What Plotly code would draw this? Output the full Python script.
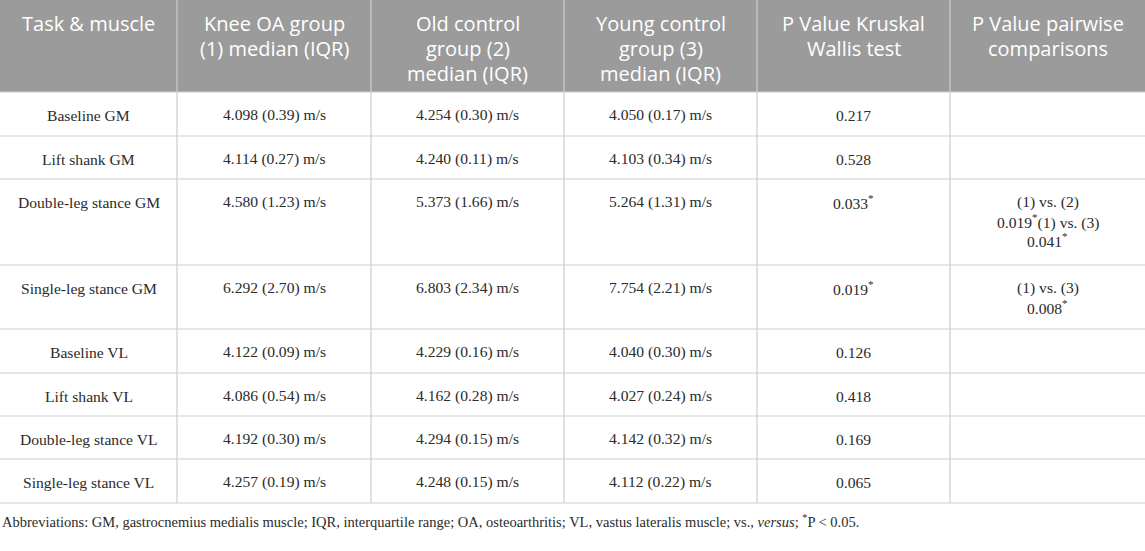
import plotly.graph_objects as go

# Table content
tasks = [
    "Baseline GM", "Lift shank GM", "Double-leg stance GM", "Single-leg stance GM",
    "Baseline VL", "Lift shank VL", "Double-leg stance VL", "Single-leg stance VL",
]
knee_oa_median = [4.098, 4.114, 4.580, 6.292, 4.122, 4.086, 4.192, 4.257]
knee_oa_iqr = [0.39, 0.27, 1.23, 2.70, 0.09, 0.54, 0.30, 0.19]
old_ctrl_median = [4.254, 4.240, 5.373, 6.803, 4.229, 4.162, 4.294, 4.248]
old_ctrl_iqr = [0.30, 0.11, 1.66, 2.34, 0.16, 0.28, 0.15, 0.15]
young_ctrl_median = [4.050, 4.103, 5.264, 7.754, 4.040, 4.027, 4.142, 4.112]
young_ctrl_iqr = [0.17, 0.34, 1.31, 2.21, 0.30, 0.24, 0.32, 0.22]
p_kruskal = [0.217, 0.528, 0.033, 0.019, 0.126, 0.418, 0.169, 0.065]
p_pairwise = [
    "", "",
    "(1) vs. (2)<br>0.019<sup>*</sup>(1) vs. (3)<br>0.041<sup>*</sup>",
    "(1) vs. (3)<br>0.008<sup>*</sup>",
    "", "", "", "",
]
headers = [
    "Task & muscle",
    "Knee OA group<br>(1) median (IQR)",
    "Old control<br>group (2)<br>median (IQR)",
    "Young control<br>group (3)<br>median (IQR)",
    "P Value Kruskal<br>Wallis test",
    "P Value pairwise<br>comparisons",
]
footnote = ("Abbreviations: GM, gastrocnemius medialis muscle; IQR, interquartile range; "
            "OA, osteoarthritis; VL, vastus lateralis muscle; vs., <i>versus</i>; "
            "<sup>*</sup>P < 0.05.")

# layout (pixels)
W, H = 1145, 551
col_edges = [0, 177, 371, 564, 757, 950, 1145]
header_h = 92
row_heights = [44, 43, 86, 64, 44, 43, 43, 44]
cell_pad_top = 23    # first text line sits this far below a row's top edge
line_h = 19          # body line spacing
head_line_h = 25     # header line spacing

HEAD_FILL = "#9b9b9b"
GRID = "#cdcdcd"
SERIF = "Liberation Serif"
SANS = "Open Sans"


def fmt(medians, iqrs):
    return [f"{m:.3f} ({q:.2f}) m/s" for m, q in zip(medians, iqrs)]


def fmt_p(vals):
    return [f"{p:.3f}<sup>*</sup>" if p < 0.05 else f"{p:.3f}" for p in vals]


def main():
    columns = [
        tasks,
        fmt(knee_oa_median, knee_oa_iqr),
        fmt(old_ctrl_median, old_ctrl_iqr),
        fmt(young_ctrl_median, young_ctrl_iqr),
        fmt_p(p_kruskal),
        p_pairwise,
    ]

    fig = go.Figure()
    shapes = []
    annotations = []

    # header band
    shapes.append(dict(type="rect", x0=0, x1=W, y0=0, y1=header_h,
                       fillcolor=HEAD_FILL, line_width=0, layer="below"))

    # row boundaries
    row_tops = [header_h]
    for h in row_heights:
        row_tops.append(row_tops[-1] + h)
    table_bottom = row_tops[-1]

    for y in row_tops:
        shapes.append(dict(type="line", x0=0, x1=W, y0=y, y1=y,
                           line=dict(color=GRID, width=1)))
    for x in col_edges[1:-1]:
        shapes.append(dict(type="line", x0=x, x1=x, y0=0, y1=table_bottom,
                           line=dict(color=GRID, width=1.2)))

    # header text
    for c, label in enumerate(headers):
        xc = (col_edges[c] + col_edges[c + 1]) / 2
        for i, part in enumerate(label.split("<br>")):
            annotations.append(dict(
                x=xc, y=23 + head_line_h * i, text=part,
                xanchor="center", yanchor="middle", showarrow=False,
                font=dict(family=SANS, size=20, color="white")))

    # body text, top aligned like the source table
    for r in range(len(tasks)):
        top = row_tops[r]
        for c, col in enumerate(columns):
            if not col[r]:
                continue
            xc = (col_edges[c] + col_edges[c + 1]) / 2
            for i, part in enumerate(col[r].split("<br>")):
                annotations.append(dict(
                    x=xc, y=top + cell_pad_top + line_h * i, text=part,
                    xanchor="center", yanchor="middle", showarrow=False,
                    font=dict(family=SERIF, size=15.6, color="#2b2b2b")))

    # footnote
    annotations.append(dict(
        x=0, y=521, text=footnote, xanchor="left", yanchor="middle",
        showarrow=False, font=dict(family=SERIF, size=14.5, color="#2b2b2b")))

    fig.update_layout(
        width=W, height=H,
        margin=dict(l=0, r=0, t=0, b=0),
        paper_bgcolor="white", plot_bgcolor="white",
        xaxis=dict(range=[0, W], visible=False, fixedrange=True),
        yaxis=dict(range=[H, 0], visible=False, fixedrange=True),
        shapes=shapes, annotations=annotations,
        showlegend=False,
    )

    fig.write_html("out.html", config={"displayModeBar": False},
                   post_script="document.body.style.margin='0';")


if __name__ == "__main__":
    main()
